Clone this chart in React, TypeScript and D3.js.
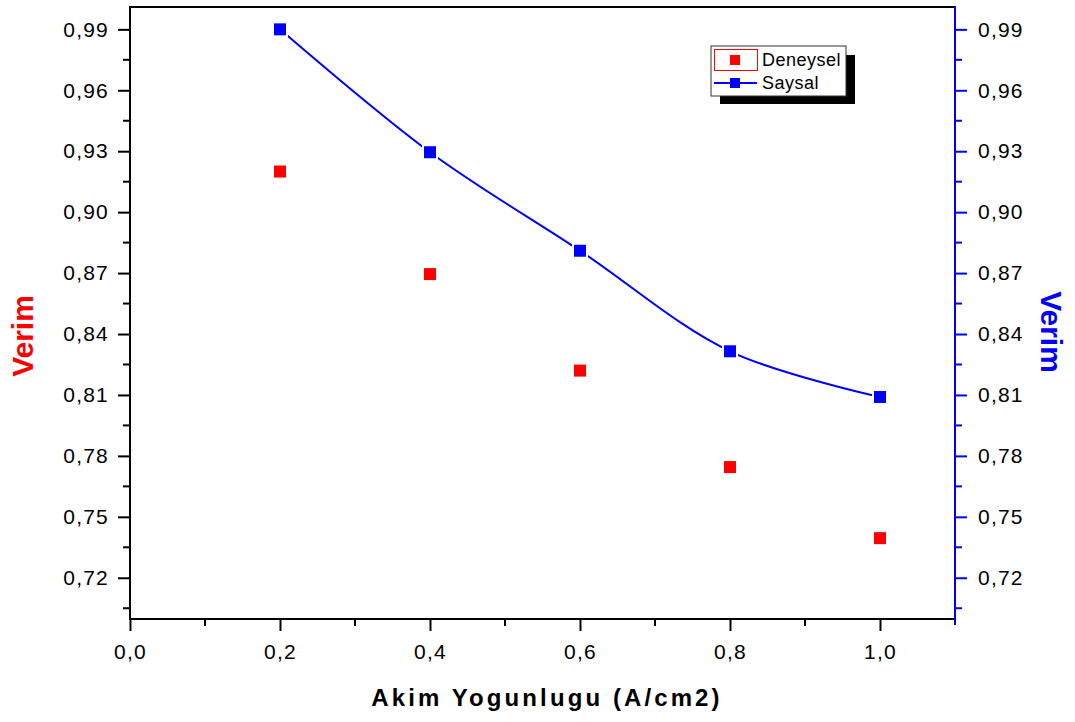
import React, { useEffect, useRef } from "react";
import * as d3 from "d3";

const xValues = [0.2, 0.4, 0.6, 0.8, 1.0];
const deneysel = [0.92, 0.8695, 0.822, 0.7745, 0.7395];
const saysal = [0.99, 0.9295, 0.881, 0.8315, 0.809];
const yTicks = [0.72, 0.75, 0.78, 0.81, 0.84, 0.87, 0.9, 0.93, 0.96, 0.99];
const xTicks = [0.0, 0.2, 0.4, 0.6, 0.8, 1.0];

const W = 1075, H = 722;
const L = 130, R = 955, T = 7, B = 619;
const FONT = "'Liberation Sans', Arial, sans-serif";

export default function App() {
  const ref = useRef<SVGSVGElement>(null);
  useEffect(() => {
    const svg = d3.select(ref.current);
    svg.selectAll("*").remove();
    const x = d3.scaleLinear().domain([0, 1.1]).range([L, R]);
    const y = d3.scaleLinear().domain([0.6997, 1.001]).range([B, T]);
    const fmt = (v: number, d: number) => v.toFixed(d).replace(".", ",");

    // frame top
    svg.append("line").attr("x1", L).attr("x2", R).attr("y1", T).attr("y2", T)
      .attr("stroke", "black").attr("stroke-width", 2);

    // left axis
    const la = svg.append("g").attr("transform", `translate(${L},0)`);
    la.call(d3.axisLeft(y).tickValues(yTicks).tickSize(12).tickFormat((d: any) => fmt(d, 2)));
    la.select(".domain").remove();
    la.append("line").attr("x1", 0).attr("x2", 0).attr("y1", T - 1).attr("y2", B + 1).attr("stroke", "black").attr("stroke-width", 2);
    la.selectAll(".tick line").attr("stroke", "black").attr("stroke-width", 2);
    la.selectAll(".tick text").attr("font-family", FONT).attr("font-size", 21).attr("letter-spacing", 1.2).attr("fill", "black").attr("x", -21);
    const minorY = d3.range(0.705, 1.0, 0.03);
    la.selectAll(".minor").data(minorY).enter().append("line")
      .attr("x1", 0).attr("x2", -7).attr("y1", (d) => y(d)).attr("y2", (d) => y(d))
      .attr("stroke", "black").attr("stroke-width", 2);

    // right axis
    const ra = svg.append("g").attr("transform", `translate(${R},0)`);
    ra.call(d3.axisRight(y).tickValues(yTicks).tickSize(12).tickFormat((d: any) => fmt(d, 2)));
    ra.select(".domain").remove();
    ra.append("line").attr("x1", 0).attr("x2", 0).attr("y1", T - 1).attr("y2", B + 6).attr("stroke", "blue").attr("stroke-width", 2);
    ra.selectAll(".tick line").attr("stroke", "blue").attr("stroke-width", 2);
    ra.selectAll(".tick text").attr("font-family", FONT).attr("font-size", 21).attr("letter-spacing", 1.2).attr("fill", "black").attr("x", 23);
    ra.selectAll(".minor").data(minorY).enter().append("line")
      .attr("x1", 0).attr("x2", 7).attr("y1", (d) => y(d)).attr("y2", (d) => y(d))
      .attr("stroke", "blue").attr("stroke-width", 2);

    // bottom axis
    const ba = svg.append("g").attr("transform", `translate(0,${B})`);
    ba.call(d3.axisBottom(x).tickValues(xTicks).tickSize(12).tickFormat((d: any) => fmt(d, 1)));
    ba.select(".domain").remove();
    ba.append("line").attr("x1", L - 1).attr("x2", R).attr("y1", 0).attr("y2", 0).attr("stroke", "black").attr("stroke-width", 2);
    ba.selectAll(".tick line").attr("stroke", "black").attr("stroke-width", 2);
    ba.selectAll(".tick text").attr("font-family", FONT).attr("font-size", 21).attr("letter-spacing", 1.2).attr("fill", "black").attr("y", 25);
    const minorX = d3.range(0.1, 1.1, 0.2);
    ba.selectAll(".minor").data(minorX).enter().append("line")
      .attr("x1", (d) => x(d)).attr("x2", (d) => x(d)).attr("y1", 0).attr("y2", 7)
      .attr("stroke", "black").attr("stroke-width", 2);

    // titles
    svg.append("text").attr("transform", `translate(33,336) rotate(-90)`).attr("text-anchor", "middle")
      .attr("font-family", FONT).attr("font-weight", "bold").attr("font-size", 30).attr("fill", "#ff0000").text("Verim");
    svg.append("text").attr("transform", `translate(1041,332) rotate(90)`).attr("text-anchor", "middle")
      .attr("font-family", FONT).attr("font-weight", "bold").attr("font-size", 30).attr("fill", "#0000ff").text("Verim");
    svg.append("text").attr("x", 547).attr("y", 706).attr("text-anchor", "middle")
      .attr("font-family", FONT).attr("font-weight", "bold").attr("font-size", 24).attr("letter-spacing", 3.1)
      .attr("fill", "black").text("Akim Yogunlugu (A/cm2)");

    // data
    const pts = xValues.map((v, i) => [x(v), y(saysal[i])] as [number, number]);
    svg.append("path").attr("d", d3.line().curve(d3.curveCatmullRom.alpha(0.5))(pts))
      .attr("fill", "none").attr("stroke", "blue").attr("stroke-width", 2);
    const s = 12;
    svg.selectAll(".den").data(xValues).enter().append("rect")
      .attr("x", (d) => x(d) - s / 2).attr("y", (d, i) => y(deneysel[i]) - s / 2)
      .attr("width", s).attr("height", s).attr("fill", "#ff0000");
    svg.selectAll(".sayg").data(xValues).enter().append("rect")
      .attr("x", (d) => x(d) - s / 2 - 2).attr("y", (d, i) => y(saysal[i]) - s / 2 - 2)
      .attr("width", s + 4).attr("height", s + 4).attr("fill", "white");
    svg.selectAll(".say").data(xValues).enter().append("rect")
      .attr("x", (d) => x(d) - s / 2).attr("y", (d, i) => y(saysal[i]) - s / 2)
      .attr("width", s).attr("height", s).attr("fill", "#0000ff");

    // legend
    const lg = svg.append("g");
    lg.append("rect").attr("x", 720).attr("y", 55).attr("width", 135).attr("height", 49).attr("fill", "black");
    lg.append("rect").attr("x", 711).attr("y", 46).attr("width", 135).attr("height", 50).attr("fill", "white").attr("stroke", "#333").attr("stroke-width", 1);
    lg.append("rect").attr("x", 714.5).attr("y", 49.5).attr("width", 43).attr("height", 21).attr("fill", "white").attr("stroke", "#ff0000").attr("stroke-width", 1);
    lg.append("rect").attr("x", 730).attr("y", 55).attr("width", 10).attr("height", 10).attr("fill", "#ff0000");
    lg.append("line").attr("x1", 714).attr("x2", 757).attr("y1", 83).attr("y2", 83).attr("stroke", "blue").attr("stroke-width", 2);
    lg.append("rect").attr("x", 730).attr("y", 78).attr("width", 10).attr("height", 10).attr("fill", "#0000ff");
    lg.append("text").attr("x", 762).attr("y", 66).attr("font-family", FONT).attr("font-size", 18).attr("letter-spacing", 0.5).attr("fill", "black").text("Deneysel");
    lg.append("text").attr("x", 762).attr("y", 89).attr("font-family", FONT).attr("font-size", 18).attr("letter-spacing", 0.5).attr("fill", "black").text("Saysal");
  }, []);
  return (
    <svg ref={ref} width={W} height={H} style={{ position: "absolute", left: 0, top: 0, background: "white" }} />
  );
}
